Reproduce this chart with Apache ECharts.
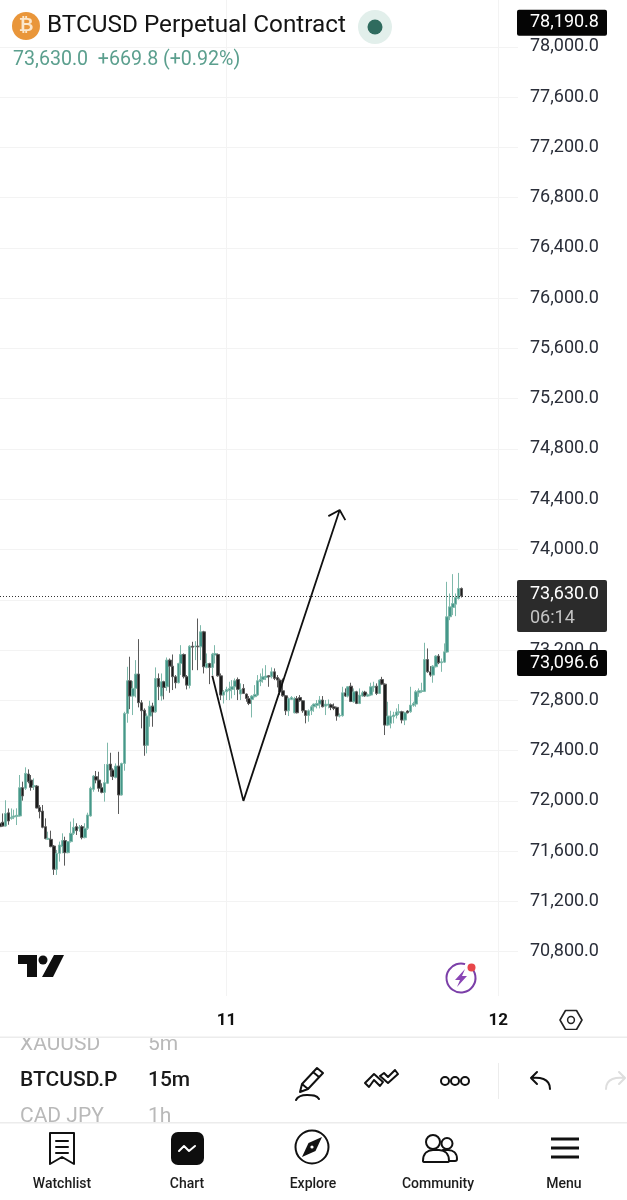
<!DOCTYPE html>
<html>
<head>
<meta charset="utf-8">
<title>BTCUSD Perpetual Contract</title>
<script src="https://cdn.jsdelivr.net/npm/echarts@6/dist/echarts.min.js"></script>
<style>html,body{margin:0;padding:0;background:#fff}#chart{width:627px;height:1200px}</style>
</head>
<body>
<div id="chart"></div>
<script>
// 15-minute candles, oldest first
const opens = [71822,71830,71800,71905,71860,71872,71877,71880,72105,72100,72214,72166,72113,72118,71949,71919,71795,71694,71694,71641,71456,71583,71636,71684,71588,71676,71742,71795,71782,71795,71708,71782,71880,72092,72193,72166,72105,72068,72140,72293,72245,72187,72277,72047,72298,72696,72956,72834,72895,73009,72781,72722,72442,72675,72754,72709,72974,72834,72948,72908,73120,73072,72988,72940,73093,73165,72988,72919,73231,73229,73231,73226,73345,73062,73093,73062,73160,73165,72995,72842,72868,72876,72887,72908,72966,72850,72895,72850,72815,72807,72829,72842,72948,72966,72982,72995,72988,73027,72982,72961,72876,72836,72717,72807,72701,72815,72823,72797,72717,72680,72717,72749,72760,72770,72802,72754,72760,72765,72749,72744,72675,72678,72860,72834,72913,72789,72868,72775,72834,72866,72834,72842,72903,72913,72855,72966,72929,72603,72617,72670,72680,72701,72709,72643,72715,72709,72760,72770,72860,72871,72871,73125,73027,73001,73067,73152,73099,73104,73184,73465,73539,73565,73610,73690];
const closes = [71795,71800,71900,71840,71870,71880,71885,72105,72039,72219,72153,72108,72121,71943,71914,71790,71700,71702,71636,71456,71583,71649,71684,71588,71676,71742,71790,71763,71790,71708,71782,71888,72100,72198,72166,72100,72068,72145,72290,72245,72193,72277,72047,72298,72696,72956,72834,72895,73009,72781,72717,72442,72675,72754,72707,72974,72908,72948,72903,73120,73072,72988,72940,73093,73165,72988,72921,73231,73223,73231,73226,73345,73067,73093,73062,73168,73173,72995,72842,72868,72887,72895,72908,72956,72887,72887,72855,72815,72775,72834,72847,72956,72966,72988,72993,72988,73027,72974,72961,72868,72836,72717,72815,72823,72815,72701,72797,72717,72680,72717,72749,72770,72775,72802,72749,72770,72770,72744,72736,72675,72680,72860,72834,72908,72791,72868,72775,72842,72860,72836,72844,72908,72913,72855,72961,72929,72603,72675,72675,72683,72707,72709,72643,72701,72701,72762,72775,72868,72876,72876,73125,73027,73001,73072,73152,73099,73107,73186,73465,73544,73570,73618,73690,73630];
const lows = [71790,71795,71795,71810,71850,71855,71808,71875,72002,72087,72140,72081,72087,71941,71861,71782,71694,71689,71631,71411,71411,71517,71583,71485,71583,71668,71729,71729,71755,71694,71702,71769,71875,72073,72140,72073,72060,71994,72134,72193,72166,72179,71896,72042,72240,72622,72730,72683,72823,72744,72577,72359,72378,72590,72590,72701,72802,72797,72807,72876,72860,72882,72895,72935,73001,72974,72887,72895,73040,73120,73040,73120,73014,73054,72929,73001,73093,72988,72802,72775,72802,72802,72815,72842,72802,72802,72850,72789,72762,72664,72823,72834,72913,72940,72961,72908,72974,72961,72903,72842,72828,72683,72675,72802,72696,72696,72789,72701,72617,72630,72683,72709,72736,72736,72744,72683,72736,72722,72722,72638,72664,72670,72828,72823,72786,72781,72770,72770,72828,72828,72828,72834,72868,72842,72850,72921,72524,72595,72577,72617,72656,72683,72617,72603,72696,72701,72749,72749,72828,72860,72866,73019,72988,72940,73062,73088,73027,73099,73178,73438,73478,73470,73602,73618];
const highs = [71875,71900,72005,71940,71940,71930,71941,72206,72153,72267,72251,72206,72179,72126,71967,71967,71861,71755,71763,71649,71610,71676,71742,71715,71676,71835,71861,71822,71808,71808,71822,71906,72113,72206,72238,72232,72140,72293,72463,72383,72259,72298,72391,72304,72709,73067,73147,72953,73120,73287,72802,72736,72696,72797,72781,73062,73014,73014,72956,73141,73133,73165,73001,73099,73239,73173,73001,73239,73266,73271,73451,73398,73353,73173,73099,73178,73239,73173,73014,72882,72908,72948,72961,72974,72982,72935,72929,72855,72834,72842,72921,73001,73014,73054,73080,73001,73062,73054,73001,72974,72974,72842,72823,72834,72828,72834,72842,72802,72722,72728,72762,72775,72802,72834,72834,72802,72807,72775,72775,72749,72696,72908,72895,72913,72940,72895,72876,72895,72876,72876,72855,72940,72948,72935,72966,72987,72935,72789,72717,72709,72736,72770,72717,72709,72722,72908,72789,72882,72895,72940,73258,73213,73072,73080,73160,73168,73133,73253,73743,73650,73804,73650,73814,73698];

// Hand-drawn projection on the chart: [slot, price] vertices, arrow head included
const arrowPoints = [[75,72995],[86,72000],[120,74314],[116,74266],[120,74314],[122,74234]];

const lastPrice = 73630.0;
const upperTag = 78190.8;
const lowerTag = 73096.6;
const changeText = '73,630.0  +669.8 (+0.92%)';
const priceMin = 70400, priceMax = 78372, priceStep = 400;

// One entry per 15-minute slot; the trailing slots leave the empty margin after the last bar
const slotDays = [], slotCount = 184;
const firstDaySlots = 80;
for (let i = 0; i < slotCount; i++) {
  const day = i < firstDaySlots ? 10 : i < firstDaySlots + 96 ? 11 : 12;
  const isFirst = i === firstDaySlots || i === firstDaySlots + 96;
  slotDays.push(day + (isFirst ? '|start' : '|' + i));
}
const isDayStart = (idx, val) => String(val).endsWith('|start');

const UP = '#45978a', DOWN = '#1c1c1c', INK = '#131722', TEAL = '#5b9f8e';
const FONT = 'Roboto, sans-serif';
const candles = opens.map((o, i) => [o, closes[i], lows[i], highs[i]]);

const tag = (value, bg, text, offset) => ({
  yAxis: value,
  lineStyle: { color: 'rgba(0,0,0,0)', width: 0 },
  label: {
    show: true, position: 'end', distance: -1, offset: offset || [0, 0],
    formatter: text, backgroundColor: bg, borderRadius: 2,
    color: '#fff', fontFamily: FONT, fontSize: 18, lineHeight: 22,
    width: 70, align: 'left', padding: [2, 7, 2, 13],
    rich: {
      a: { color: '#fff', fontFamily: FONT, fontSize: 18, lineHeight: 24 },
      b: { color: '#c4c4c4', fontFamily: FONT, fontSize: 18, lineHeight: 24 }
    }
  }
});

// Vector icons are registered as named shapes so the graphic component can place them
let iconId = 0;
const svg = (d, x, y, style, z, extra) => {
  const name = 'icon' + (iconId++);
  echarts.graphic.registerShape(name, echarts.graphic.extendPath(d, {}));
  return Object.assign({ type: name, x, y, z: z || 40, silent: true, shape: {}, style }, extra || {});
};
const STROKE = { fill: 'none', stroke: '#111', lineWidth: 2, lineCap: 'round', lineJoin: 'round' };
const label = (text, x, y, size, color, weight, align) => ({
  type: 'text', x, y, z: 40, silent: true,
  style: { text, fill: color || INK, font: (weight || 400) + ' ' + size + 'px ' + FONT,
           textAlign: align || 'center', textVerticalAlign: 'middle' }
});
const rect = (x, y, width, height, fill, z, r) => ({
  type: 'rect', z: z || 40, silent: true, shape: { x, y, width, height, r: r || 0 }, style: { fill }
});
const circle = (cx, cy, r, style, z) => ({ type: 'circle', z: z || 40, silent: true, shape: { cx, cy, r }, style });
const ring = (cx, cy, r, width) => circle(cx, cy, r, { fill: 'none', stroke: '#111', lineWidth: width || 2 });

const chrome = [
  // Header
  circle(26, 26, 14, { fill: '#e9963a' }),
  label('₿', 26, 26, 18, '#fbe7cc', 700),
  label('BTCUSD Perpetual Contract', 47, 26, 24.3, '#141414', 400, 'left'),
  circle(375, 27, 17, { fill: '#e2efeb' }),
  circle(375, 27, 7.5, { fill: '#2f6b5e' }, 41),
  label(changeText, 13, 60, 19.6, TEAL, 400, 'left'),

  // Platform logo
  svg('M0 0H19V22H9V9H0Z M36 0H46L35 22H24Z', 18, 955, { fill: '#0f0f0f' }),
  circle(43, 960, 4.5, { fill: '#0f0f0f' }),

  // Flash icon
  { type: 'arc', z: 40, silent: true, shape: { cx: 461, cy: 978, r: 14.5, startAngle: -0.95, endAngle: 5.0 }, style: { stroke: '#7b3fa8', fill: 'none', lineWidth: 2 } },
  svg('M4 -9L-6 2H-1L-4 9L6 -2H1Z', 461, 978, { fill: '#8a45b5' }),
  circle(471.5, 967.5, 4, { fill: '#e8464a' }, 41),

  // Settings hexagon next to the time scale
  svg('M-5.5 -9.5H5.5L11 0L5.5 9.5H-5.5L-11 0Z', 571, 1020, { fill: 'none', stroke: '#222', lineWidth: 1.6, lineJoin: 'round' }),
  circle(571, 1020, 3.4, { fill: 'none', stroke: '#222', lineWidth: 1.5 }),

  // Keeps the day grid lines short of the time scale
  rect(0, 996, 518, 7, '#fff', 4),

  // Toolbar with its clipped symbol list
  label('XAUUSD', 20, 1045, 21, '#b9b9b9', 400, 'left'),
  label('5m', 148, 1045, 21, '#b9b9b9', 400, 'left'),
  label('CAD JPY', 20, 1117, 21, '#b9b9b9', 400, 'left'),
  label('1h', 148, 1117, 21, '#b9b9b9', 400, 'left'),
  rect(0, 1030, 627, 8, '#fff', 42),
  rect(0, 1036.5, 627, 1.5, '#ececec', 43),
  rect(0, 1122, 627, 78, '#fff', 42),
  rect(0, 1122, 627, 1.5, '#ececec', 43),
  label('BTCUSD.P', 20, 1081, 21, '#1a1a1a', 500, 'left'),
  label('15m', 148, 1081, 21, '#1a1a1a', 500, 'left'),
  svg('M-8 4L7 -12L13 -7L-2 9L-10 12Z M3 -8L9 -3 M-8 4L-2 9 M-14 20C-12 16 -7 15 -3 15C2 15 7 15 9 19', 310, 1080, STROKE),
  svg('M-16 4L-7 -5L2 3L-1 7L-7 1L-12 8Z M-1 -3L3 -6L7 -2L14 -9L17 -5L7 4Z', 381, 1079, STROKE),
  ring(445, 1081, 4), ring(455, 1081, 4), ring(465, 1081, 4),
  rect(498, 1063, 1, 36, '#ececec'),
  svg('M-4 -9L-10 -3L-4 3 M-10 -3C-2 -4 9 -3 9 8', 541, 1081, STROKE),
  svg('M4 -9L10 -3L4 3 M10 -3C2 -4 -9 -3 -9 8', 615, 1081, { fill: 'none', stroke: '#dedede', lineWidth: 2, lineCap: 'round', lineJoin: 'round' }),

  // Bottom navigation
  svg('M-12 -15H12V16L0 9L-12 16Z M-6 -7H6 M-6 -1H6 M-6 5H6', 62, 1148, STROKE, 44),
  rect(171, 1132, 33, 33, '#0e0e0e', 44, 7),
  svg('M-8 2L-3 -3L2 2L8 -3', 187, 1149, { fill: 'none', stroke: '#fff', lineWidth: 2, lineCap: 'round', lineJoin: 'round' }, 45),
  circle(312, 1147, 16.5, { fill: 'none', stroke: '#111', lineWidth: 2 }, 44),
  svg('M10 -10L3.5 4L-10 10L-3.5 -4Z', 312, 1147, { fill: '#111' }, 44),
  circle(312, 1147, 1.6, { fill: '#fff' }, 45),
  circle(433, 1142, 7, { fill: 'none', stroke: '#111', lineWidth: 2 }, 44),
  circle(447, 1143.5, 5.5, { fill: 'none', stroke: '#111', lineWidth: 2 }, 44),
  svg('M-16 14C-16 6 -11 3 -6 3H0C5 3 10 6 10 14C10 15 9 15 8 15H-14C-15 15 -16 15 -16 14Z M4 3H9C14 3 18 6 18 12C18 13 17 14 16 14H10', 439, 1147, STROKE, 44),
  rect(551, 1137.5, 28, 3, '#111', 44),
  rect(551, 1146.5, 28, 3, '#111', 44),
  rect(551, 1155.5, 28, 3, '#111', 44),
  ...[['Watchlist', 62], ['Chart', 187], ['Explore', 313], ['Community', 438], ['Menu', 564]].map(([t, x]) => {
    const el = label(t, x, 1184, 14, '#1c1c1c', 500);
    el.z = 44;
    return el;
  })
];

const chart = echarts.init(document.getElementById('chart'), null, { renderer: 'canvas' });
chart.setOption({
  animation: false,
  backgroundColor: '#fff',
  grid: { left: 0, top: 0, width: 518, height: 1002, containLabel: false },
  xAxis: {
    type: 'category', data: slotDays, boundaryGap: false,
    axisLine: { show: false }, axisTick: { show: false },
    axisLabel: {
      interval: isDayStart, margin: 10, hideOverlap: false,
      formatter: v => v.split('|')[0],
      color: '#111', fontFamily: FONT, fontWeight: 700, fontSize: 17
    },
    splitLine: { show: true, interval: isDayStart, lineStyle: { color: '#f3f3f3', width: 1 } }
  },
  yAxis: {
    type: 'value', position: 'right', min: priceMin, max: priceMax, interval: priceStep,
    axisLine: { show: false }, axisTick: { show: false },
    axisLabel: {
      margin: 12, showMinLabel: false, showMaxLabel: false,
      formatter: v => v.toLocaleString('en-US', { minimumFractionDigits: 1, maximumFractionDigits: 1 }),
      color: '#2a2e39', fontFamily: FONT, fontSize: 18
    },
    splitLine: { show: true, showMinLine: false, showMaxLine: false, lineStyle: { color: '#f3f3f3', width: 1 } }
  },
  series: [
    {
      name: 'BTCUSD', type: 'candlestick', data: candles, barWidth: 3,
      itemStyle: { color: UP, color0: DOWN, borderColor: '#7fb9ab', borderColor0: '#5a5a5a', borderWidth: 1 },
      markLine: {
        silent: true, symbol: 'none', animation: false,
        data: [
          { yAxis: lastPrice, lineStyle: { color: '#333', type: [1, 2], width: 1 }, label: { show: false } },
          tag(upperTag, '#050505', '78,190.8'),
          tag(lastPrice, '#2b2b2b', '{a|73,630.0}\n{b|06:14}', [0, 10]),
          tag(lowerTag, '#050505', '73,096.6')
        ]
      }
    },
    {
      name: 'Projection', type: 'line', data: arrowPoints, showSymbol: false, symbol: 'none',
      lineStyle: { color: '#111', width: 1.8 }, z: 6, silent: true
    }
  ],
  graphic: { elements: chrome }
});
</script>
</body>
</html>
